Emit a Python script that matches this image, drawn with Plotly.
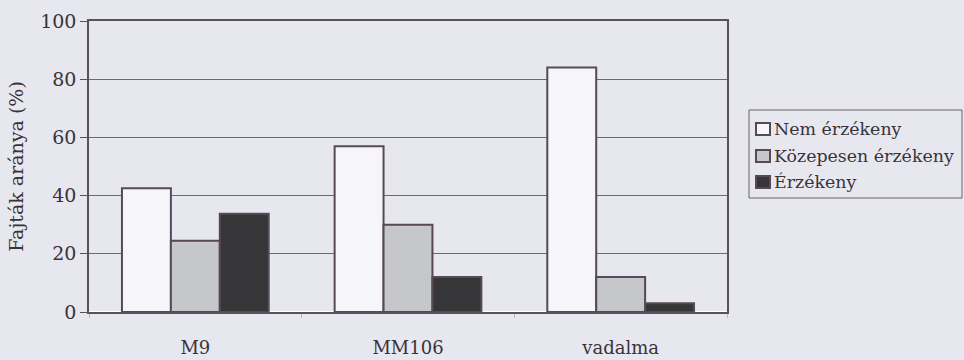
import plotly.graph_objects as go

# Rootstock categories and share of cultivars per sensitivity class (%)
categories = ["M9", "MM106", "vadalma"]
series_names = ["Nem érzékeny", "Közepesen érzékeny", "Érzékeny"]
nem_erzekeny = [42.5, 57.0, 84.0]
kozepesen_erzekeny = [24.5, 30.0, 12.0]
erzekeny = [33.8, 12.0, 3.0]
y_ticks = [0, 20, 40, 60, 80, 100]

series_values = [nem_erzekeny, kozepesen_erzekeny, erzekeny]
fill_colors = ["#f6f6fa", "#c6c7cb", "#363538"]
outline = "#574955"
bg = "#e7e8ef"
text_color = "#3a3238"
serif = "DejaVu Serif"

W, H = 964, 360
L, R, T, B = 89, 237, 21, 48
plot_w = W - L - R
plot_h = H - T - B


def px_x(x):
    """Canvas pixel column -> paper x fraction."""
    return (x - L) / plot_w


def px_y(y):
    """Canvas pixel row -> paper y fraction."""
    return (H - B - y) / plot_h


fig = go.Figure()
for name, vals, col in zip(series_names, series_values, fill_colors):
    fig.add_trace(go.Bar(
        x=categories, y=vals, name=name, showlegend=False,
        marker=dict(color=col, line=dict(color=outline, width=2)),
    ))

# Boxed legend at the right of the plot area
shapes = [dict(
    type="rect", xref="paper", yref="paper", layer="above",
    x0=px_x(749), x1=px_x(962), y0=px_y(198), y1=px_y(110),
    line=dict(color="#6a6068", width=1), fillcolor=bg,
)]
annotations = []
row_centers = [129, 156, 182]
for name, col, yc in zip(series_names, fill_colors, row_centers):
    shapes.append(dict(
        type="rect", xref="paper", yref="paper", layer="above",
        x0=px_x(756), x1=px_x(770), y0=px_y(yc + 6), y1=px_y(yc - 6),
        line=dict(color=outline, width=2), fillcolor=col,
    ))
    annotations.append(dict(
        text=name, xref="paper", yref="paper", showarrow=False,
        x=px_x(772), y=px_y(yc), xanchor="left", yanchor="middle",
        font=dict(family=serif, size=17.4, color=text_color),
    ))

fig.update_layout(
    width=W, height=H,
    margin=dict(l=L, r=R, t=T, b=B),
    paper_bgcolor=bg, plot_bgcolor=bg,
    barmode="group", bargap=0.31, bargroupgap=0,
    font=dict(family=serif, size=19, color=text_color),
    showlegend=False,
    shapes=shapes, annotations=annotations,
)
fig.update_xaxes(
    showline=True, linecolor="#5a5058", linewidth=1.5, mirror=True,
    ticks="outside", tickson="boundaries", ticklen=4, tickcolor="#b8b8c0",
    tickfont=dict(family=serif, size=18, color=text_color),
    ticklabelstandoff=19, showgrid=False, automargin=False,
)
fig.update_yaxes(
    range=[0, 100], tickvals=y_ticks,
    showline=True, linecolor="#5a5058", linewidth=1.5, mirror=True,
    ticks="outside", ticklen=7, tickcolor="#5a5058",
    showgrid=True, gridcolor="#6e6670", gridwidth=1,
    tickfont=dict(family=serif, size=19, color=text_color),
    automargin=False,
    title=dict(text="Fajták aránya (%)", standoff=12,
               font=dict(family=serif, size=19, color=text_color)),
)

fig.write_html("out.html")
